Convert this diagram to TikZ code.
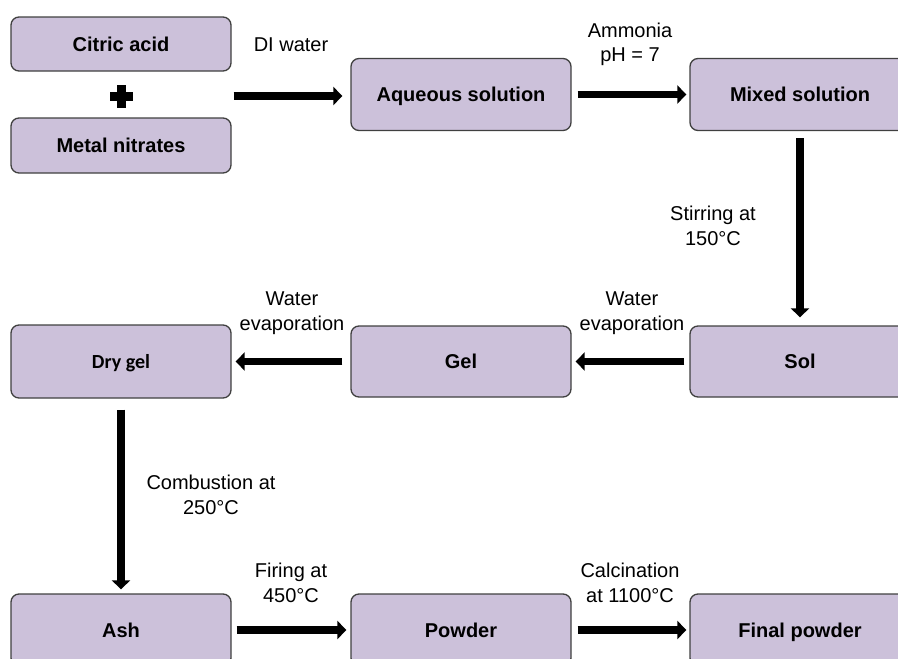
\documentclass[tikz,border=0pt]{standalone}
\usepackage{fontspec}
\setmainfont{Liberation Sans}
\newfontfamily\calibri{Carlito}
\usetikzlibrary{arrows.meta}
\definecolor{lavender}{RGB}{204,193,218}
\definecolor{rim}{RGB}{64,64,64}

\begin{document}
\begin{tikzpicture}[x=1pt, y=-1pt, font=\fontsize{20}{24.5}\selectfont]
  \tikzset{stage/.style={draw=rim, line width=1.3pt, fill=lavender, rounded corners=8pt,
      minimum width=220pt, minimum height=72pt, inner sep=0pt, text height=14.3pt, text depth=0pt,
      font=\fontsize{20}{24}\selectfont\bfseries},
    flow/.style={line width=7.5pt, -{Triangle[length=9pt, width=18pt]},
      shorten <=5pt, shorten >=4pt},
    remark/.style={align=center, inner sep=0pt}}
  \clip (0,0) rectangle (898,659);

  \node[stage, minimum height=54pt] (citric) at (121,44) {Citric acid};
  \node[stage, minimum height=55pt] (metal) at (121,145.5) {Metal nitrates};
  \coordinate (plus) at (121,96);
  \fill (109.5,91.5) rectangle (132.5,100.5);
  \fill (116.5,84.5) rectangle (125.5,107.5);
  \node[stage] (aqueous) at (461,94.5) {Aqueous solution};
  \node[stage] (mixed) at (800,94.5) {Mixed solution};
  \node[stage, minimum height=71pt] (sol) at (800,361.5) {Sol};
  \node[stage, minimum height=71pt] (gel) at (461,361.5) {Gel};
  \node[stage, minimum height=73pt, font=\calibri\fontsize{20}{24}\selectfont\bfseries]
    (drygel) at (121,361.5) {Dry gel};
  \node[stage] (ash) at (121,630) {Ash};
  \node[stage] (powder) at (461,630) {Powder};
  \node[stage] (final) at (800,630) {Final powder};

  \draw[flow, shorten <=2pt, shorten >=8pt] (plus -| citric.east) -- (plus -| aqueous.west);
  \draw[flow, shorten <=6pt, shorten >=3pt] (aqueous.east) -- (mixed.west);
  \draw[flow, shorten <=7pt, shorten >=8pt] (mixed.south) -- (sol.north);
  \draw[flow] (sol.west) -- (gel.east);
  \draw[flow, shorten <=8pt] (gel.west) -- (drygel.east);
  \draw[flow, shorten <=11pt] (drygel.south) -- (ash.north);
  \draw[flow] (ash.east) -- (powder.west);
  \draw[flow, shorten <=6pt, shorten >=3pt] (powder.east) -- (final.west);

  \node[remark] (diwater) at (291,45) {DI water};
  \node[remark] (ammonia) at (630,44.5) {Ammonia\\pH = 7};
  \node[remark] (stirring) at (713,226) {Stirring at\\150°C};
  \node[remark] (evapright) at (632,313) {Water\\evaporation};
  \node[remark] (evapleft) at (292,313) {Water\\evaporation};
  \node[remark] (combustion) at (211,495) {Combustion at\\250°C};
  \node[remark] (firing) at (291,583) {Firing at\\450°C};
  \node[remark] (calcination) at (630,583) {Calcination\\at 1100°C};
\end{tikzpicture}
\end{document}
